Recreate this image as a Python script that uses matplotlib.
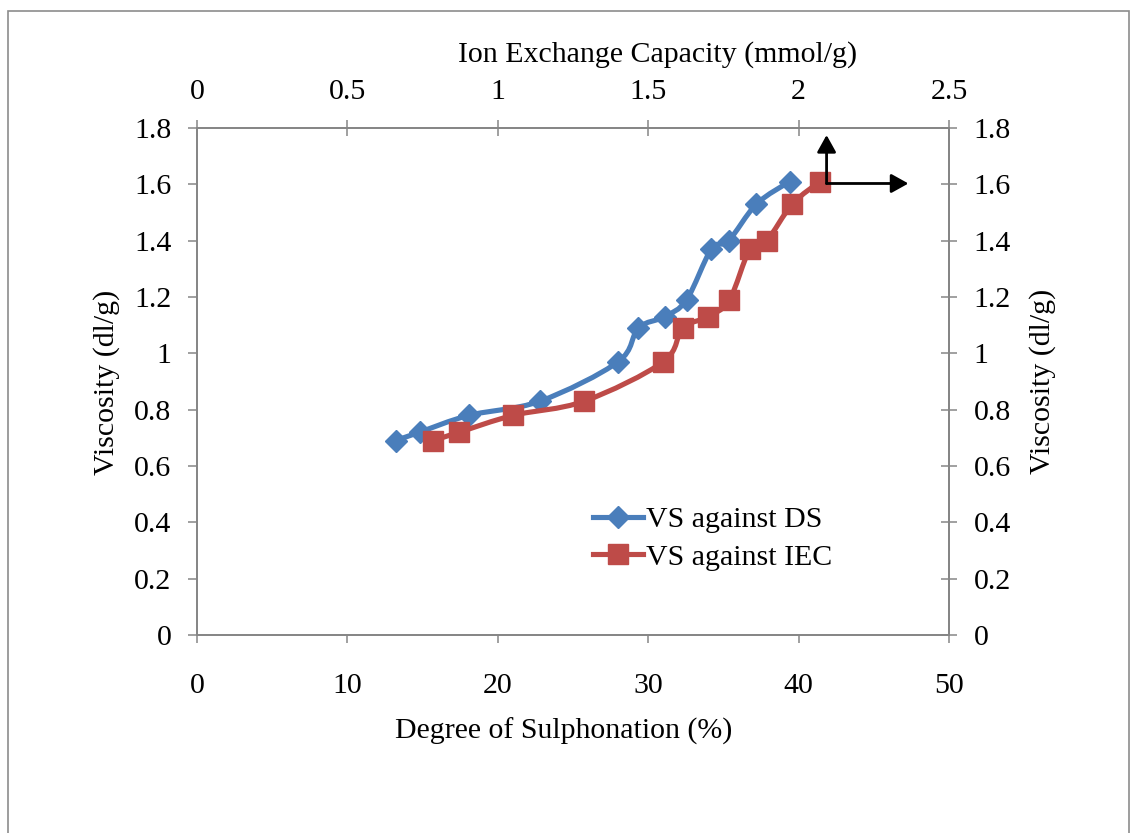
import numpy as np
import matplotlib.pyplot as plt
from matplotlib.path import Path
from matplotlib.patches import PathPatch, Rectangle
from matplotlib.lines import Line2D
from matplotlib.ticker import MultipleLocator, FuncFormatter

plt.rcParams['font.family'] = ['Liberation Serif', 'DejaVu Serif']

# viscosity vs degree of sulphonation (bottom axis) and vs IEC (top axis)
ds = [13.2, 14.8, 18.1, 22.8, 28.0, 29.35, 31.1, 32.55, 34.2, 35.35, 37.2, 39.4]
iec = [0.784, 0.872, 1.052, 1.287, 1.55, 1.615, 1.70, 1.77, 1.838, 1.894, 1.979, 2.071]
visc = [0.69, 0.72, 0.78, 0.83, 0.97, 1.09, 1.13, 1.19, 1.37, 1.40, 1.53, 1.61]

blue = '#4A7EBB'
red = '#BE4B48'
grey = '#868686'
fs = 21.5


def smooth_path(x, y):
    # Catmull-Rom style bezier through the points (Excel "smoothed line")
    p = np.column_stack([x, y])
    verts = [p[0]]
    codes = [Path.MOVETO]
    for i in range(len(p) - 1):
        p0 = p[max(i - 1, 0)]
        p3 = p[min(i + 2, len(p) - 1)]
        c1 = p[i] + (p[i + 1] - p0) / 6
        c2 = p[i + 1] - (p3 - p[i]) / 6
        verts += [c1, c2, p[i + 1]]
        codes += [Path.CURVE4] * 3
    return Path(verts, codes)


fig = plt.figure(figsize=(11.31, 8.33), dpi=100)
ax = fig.add_axes([197/1131, 198/833, 752/1131, 507/833])

ax.add_patch(PathPatch(smooth_path(ds, visc), facecolor='none', edgecolor=blue,
                       lw=3.7, joinstyle='round', capstyle='round'))
ax.plot(ds, visc, linestyle='none', marker='D', ms=11, color=blue)
ax.set_xlim(0, 50)
ax.set_ylim(0, 1.8)

fmt = FuncFormatter(lambda v, pos: f'{v:g}')
ax.xaxis.set_major_locator(MultipleLocator(10))
ax.yaxis.set_major_locator(MultipleLocator(0.2))
ax.xaxis.set_major_formatter(fmt)
ax.yaxis.set_major_formatter(fmt)
ax.tick_params(axis='x', direction='out', length=6, width=1.1, color=grey,
               labelsize=fs, pad=21.5)
ax.tick_params(axis='y', direction='out', length=6.5, width=1.1, color=grey,
               labelsize=fs, pad=12)
for s in ax.spines.values():
    s.set_color(grey)
    s.set_linewidth(1.3)

ax.set_xlabel('Degree of Sulphonation (%)', fontsize=fs, va='center')
ax.xaxis.set_label_coords(0.487, -0.19)
ax.set_ylabel('Viscosity (dl/g)', fontsize=fs, va='center')
ax.yaxis.set_label_coords(-0.12, 0.499)

# right hand copy of the viscosity scale
axr = ax.secondary_yaxis('right')
axr.yaxis.set_major_locator(MultipleLocator(0.2))
axr.yaxis.set_major_formatter(fmt)
axr.tick_params(direction='inout', length=11.5, width=1.1, color=grey,
                labelsize=fs, pad=12)
axr.spines['right'].set_color(grey)
axr.spines['right'].set_linewidth(1.3)
axr.set_ylabel('Viscosity (dl/g)', fontsize=fs, labelpad=13)

# top axis: ion exchange capacity
ax2 = ax.twiny()
ax2.add_patch(PathPatch(smooth_path(iec, visc), facecolor='none', edgecolor=red,
                        lw=3.7, joinstyle='round', capstyle='round'))
ax2.plot(iec, visc, linestyle='none', marker='s', ms=14, color=red)
ax2.set_xlim(0, 2.5)
ax2.xaxis.set_major_locator(MultipleLocator(0.5))
ax2.xaxis.set_major_formatter(fmt)
ax2.tick_params(axis='x', direction='inout', length=11.5, width=1.1, color=grey,
                labelsize=fs, pad=10.5)
for s in ax2.spines.values():
    s.set_color(grey)
    s.set_linewidth(1.3)
ax2.set_xlabel('Ion Exchange Capacity (mmol/g)', fontsize=fs, va='center')
ax2.xaxis.set_label_coords(0.613, 1.144)

# arrows pointing at the axes each series belongs to
arrow = dict(arrowstyle='-|>,head_length=0.45,head_width=0.25', color='black',
             lw=2, mutation_scale=23, shrinkA=0, shrinkB=0)
ax2.annotate('', xy=(2.093, 1.775), xytext=(2.093, 1.603), arrowprops=arrow)
ax2.annotate('', xy=(2.365, 1.603), xytext=(2.093, 1.603), arrowprops=arrow)

handles = [Line2D([], [], color=blue, lw=3.7, marker='D', ms=11),
           Line2D([], [], color=red, lw=3.7, marker='s', ms=14)]
ax2.legend(handles, ['VS against DS', 'VS against IEC'], loc='center left',
           bbox_to_anchor=(0.527, 0.19), frameon=False, borderpad=0,
           borderaxespad=0, handlelength=1.68, handletextpad=0.1,
           labelspacing=0.35, fontsize=fs)

# outer chart border
fig.patches.append(Rectangle((8/1131, -0.1), 1121/1131, 1.1 - 11/833,
                             transform=fig.transFigure, fill=False,
                             edgecolor='#8c8c8c', lw=1.2))

plt.savefig('out.png', dpi=100)
